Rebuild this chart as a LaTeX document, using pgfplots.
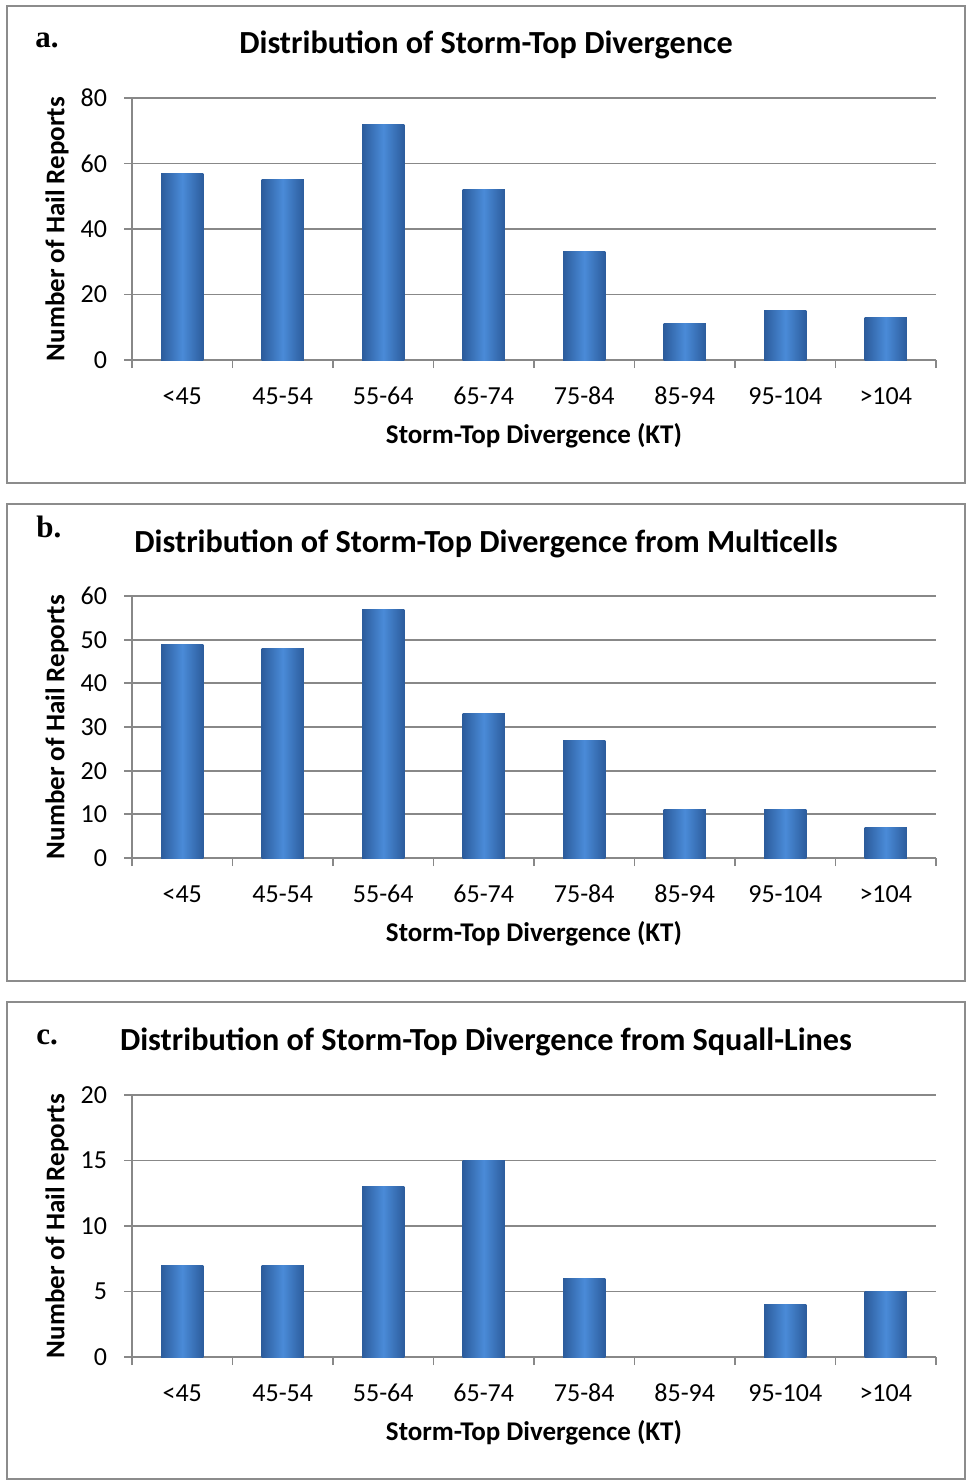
\documentclass[border=0pt]{standalone}
\usepackage{pgfplots}
\pgfplotsset{compat=1.18}
\usepackage{fontspec}
\setmainfont{Carlito}
\newfontfamily\panelfont{Liberation Serif}
\definecolor{gridc}{HTML}{888888}
\definecolor{boxc}{HTML}{8C8C8C}
\definecolor{barE}{HTML}{2C5C9C}
\definecolor{barM}{HTML}{4A8BD8}
\pgfplotsset{
  barsty/.style={draw=none, bar shift=0pt, shade, shading=axis, left color=barE, right color=barE, middle color=barM},
  hailbar/.style={
    scale only axis, width=402pt, height=131pt,
    xmin=-0.5, xmax=7.5, ymin=0,
    xtick={0,...,7},
    xticklabels={<45,45-54,55-64,65-74,75-84,85-94,95-104,>104},
    minor xtick={-0.5,0.5,...,7.5},
    major x tick style={draw=none},
    tick align=outside, major tick length=4pt, minor tick length=4pt,
    ymajorgrids, grid style={gridc, line width=0.9pt},
    axis x line*=bottom, axis y line*=left,
    axis line style={gridc, line width=0.9pt, -},
    tick style={gridc, line width=0.9pt},
    ybar, bar width=0.42,
    tick label style={font=\fontsize{13}{13}\selectfont},
    /pgf/number format/assume math mode=true,
    xticklabel style={anchor=base, yshift=-18pt},
    yticklabel style={anchor=east, xshift=-5pt},
    xlabel={Storm-Top Divergence (KT)}, ylabel={Number of Hail Reports},
    label style={font=\bfseries\fontsize{13.5}{13.5}\selectfont},
    xlabel style={at={(axis description cs:0.5,-0.3168)}, anchor=base},
    ylabel style={at={(axis description cs:-0.0933,0.5)}, anchor=center},
  }
}
\newcommand{\hb}[2]{\addplot[barsty] coordinates {(#1,#2)};}
\begin{document}
\begin{tikzpicture}
\path[use as bounding box] (0pt,0pt) rectangle (483.5pt,-741pt);
\draw[boxc, line width=1pt] (3.5pt,-3pt) rectangle (482.5pt,-241.5pt);
\draw[boxc, line width=1pt] (3.5pt,-252pt) rectangle (482.5pt,-490.5pt);
\draw[boxc, line width=1pt] (3.5pt,-501pt) rectangle (482.5pt,-739.5pt);
\node[anchor=base west, inner sep=0pt, font=\panelfont\bfseries\fontsize{15.5}{15.5}\selectfont] at (17.5pt,-24pt) {a.};
\node[anchor=base west, inner sep=0pt, font=\panelfont\bfseries\fontsize{15.5}{15.5}\selectfont] at (18pt,-268.5pt) {b.};
\node[anchor=base west, inner sep=0pt, font=\panelfont\bfseries\fontsize{15.5}{15.5}\selectfont] at (18pt,-522pt) {c.};
\node[anchor=base, inner sep=0pt, font=\bfseries\fontsize{16.1}{16.1}\selectfont] at (243pt,-27pt) {Distribution of Storm-Top Divergence};
\node[anchor=base, inner sep=0pt, font=\bfseries\fontsize{16.1}{16.1}\selectfont] at (243pt,-276pt) {Distribution of Storm-Top Divergence from Multicells};
\node[anchor=base, inner sep=0pt, font=\bfseries\fontsize{16.1}{16.1}\selectfont] at (243pt,-525pt) {Distribution of Storm-Top Divergence from Squall-Lines};

% a: 57, 55, 72, 52, 33, 11, 15, 13
\begin{axis}[hailbar, at={(66pt,-180pt)}, anchor=south west, ymax=80, ytick={0,20,...,80}]
\hb{0}{57} \hb{1}{55} \hb{2}{72} \hb{3}{52} \hb{4}{33} \hb{5}{11} \hb{6}{15} \hb{7}{13}
\end{axis}

% b: 49, 48, 57, 33, 27, 11, 11, 7
\begin{axis}[hailbar, at={(66pt,-429pt)}, anchor=south west, ymax=60, ytick={0,10,...,60}]
\hb{0}{49} \hb{1}{48} \hb{2}{57} \hb{3}{33} \hb{4}{27} \hb{5}{11} \hb{6}{11} \hb{7}{7}
\end{axis}

% c: 7, 7, 13, 15, 6, 0 (85-94, no bar), 4, 5
\begin{axis}[hailbar, at={(66pt,-678.5pt)}, anchor=south west, ymax=20, ytick={0,5,...,20}]
\hb{0}{7} \hb{1}{7} \hb{2}{13} \hb{3}{15} \hb{4}{6} \hb{6}{4} \hb{7}{5}
\end{axis}
\end{tikzpicture}
\end{document}
